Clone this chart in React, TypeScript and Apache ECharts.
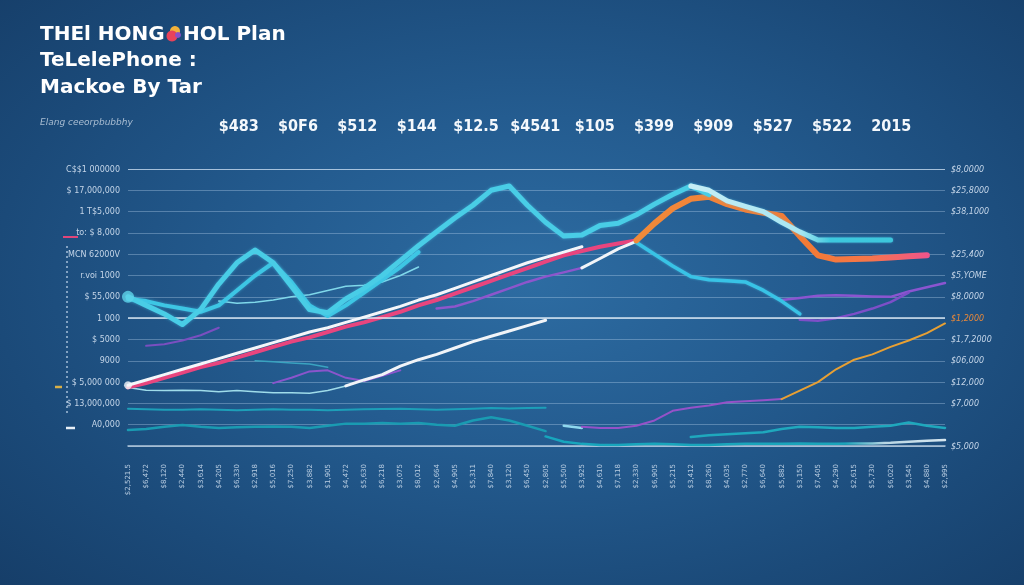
import React, { useEffect, useRef } from "react";
import * as echarts from "echarts";

const N = 46;
const categories = [
  "$2,521.5", "$6,472", "$8,120", "$2,440", "$3,614", "$4,205", "$6,330", "$2,918",
  "$5,016", "$7,250", "$3,882", "$1,905", "$4,472", "$5,630", "$6,218", "$3,075",
  "$8,012", "$2,664", "$4,905", "$5,311", "$7,840", "$3,120", "$6,450", "$2,805",
  "$5,500", "$3,925", "$4,610", "$7,118", "$2,330", "$6,905", "$5,215", "$3,412",
  "$8,260", "$4,035", "$2,770", "$6,640", "$5,882", "$3,150", "$7,405", "$4,290",
  "$2,615", "$5,730", "$6,020", "$3,545", "$4,880", "$2,995",
];
const topLabels = ["$483", "$0F6", "$512", "$144", "$12.5", "$4541", "$105", "$399", "$909", "$527", "$522", "2015"];
const leftTicks = [
  "", "A0,000", "$ 13,000,000", "$ 5,000 000", "9000", "$ 5000", "1 000",
  "$ 55,000", "r.voi 1000", "MCN 62000V", "to: $ 8,000", "1 T$5,000", "$ 17,000,000", "C$$1 000000",
];
const rightTicks = [
  "$5,000", "", "$7,000", "$12,000", "$06,000", "$1,7,2000", "$1,2000",
  "$8,0000", "$5,YOME", "$25,400", "", "$38,1000", "$25,8000", "$8,0000",
];

// series values (start index, values)
const cyanMainStart = 0;
const cyanMain = [7.0, 6.6, 6.2, 5.7, 6.4, 7.6, 8.6, 9.2, 8.6, 7.5, 6.4, 6.25, 6.9, 7.4, 8.0, 8.7, 9.4, 10.05, 10.7, 11.3, 12.0, 12.2, 11.3, 10.5, 9.85, 9.9, 10.35, 10.45, 10.85, 11.35, 11.8, 12.2, 11.8];
const cyanSecondStart = 0;
const cyanSecond = [6.9, 6.8, 6.6, 6.45, 6.3, 6.6, 7.3, 8.0, 8.6, 7.7, 6.6, 6.1, 6.6, 7.2, 7.8, 8.4, 9.1];
const cyanThinStart = 5;
const cyanThin = [6.8, 6.7, 6.75, 6.85, 7.0, 7.1, 7.3, 7.5, 7.55, 7.7, 8.0, 8.4];
const paleCyanStart = 31;
const paleCyan = [12.2, 12.0, 11.5, 11.25, 11.0, 10.5, 10.05, 9.67, 9.67, 9.67, 9.67, 9.67];
const cyanDownStart = 28;
const cyanDown = [9.55, 9.0, 8.45, 7.95, 7.8, 7.75, 7.7, 7.3, 6.8, 6.2];
const pinkStart = 0;
const pink = [2.75, 2.95, 3.2, 3.45, 3.7, 3.9, 4.15, 4.4, 4.65, 4.9, 5.1, 5.35, 5.6, 5.8, 6.05, 6.3, 6.6, 6.85, 7.15, 7.45, 7.75, 8.05, 8.35, 8.65, 8.95, 9.15, 9.35, 9.5, 9.65];
const orangeStart = 28;
const orange = [9.65, 10.45, 11.15, 11.6, 11.7, 11.35, 11.1, 10.95, 10.8, 9.85, 8.95, 8.75, 8.78, 8.8, 8.85, 8.9, 8.95];
const whiteUpperStart = 0;
const whiteUpper = [2.85, 3.1, 3.35, 3.6, 3.85, 4.1, 4.35, 4.6, 4.85, 5.1, 5.35, 5.55, 5.8, 6.05, 6.3, 6.55, 6.85, 7.1, 7.4, 7.7, 8.0, 8.3, 8.6, 8.85, 9.1, 9.35];
const whiteSecondStart = 25;
const whiteSecond = [8.36, 8.8, 9.25, 9.6];
const whiteLowerStart = 12;
const whiteLower = [2.82, 3.1, 3.35, 3.75, 4.05, 4.3, 4.6, 4.9, 5.15, 5.4, 5.65, 5.9];
const lightThinStart = 0;
const lightThin = [2.75, 2.62, 2.6, 2.62, 2.6, 2.55, 2.6, 2.55, 2.5, 2.5, 2.48, 2.6, 2.82];
const purpleAStart = 1;
const purpleA = [4.7, 4.78, 4.95, 5.2, 5.55];
const purpleBStart = 8;
const purpleB = [2.95, 3.2, 3.5, 3.55, 3.2, 3.05, 3.3, 3.55];
const purpleCStart = 17;
const purpleC = [6.45, 6.55, 6.8, 7.1, 7.4, 7.7, 7.95, 8.15, 8.36];
const purpleDStart = 36;
const purpleD = [6.85, 6.95, 7.05, 7.08, 7.05, 7.02, 7.0, 7.25, 7.45, 7.65];
const purpleEStart = 37;
const purpleE = [5.92, 5.88, 6.0, 6.2, 6.45, 6.75, 7.2];
const purpleFStart = 25;
const purpleF = [0.9, 0.85, 0.85, 0.95, 1.2, 1.65, 1.8, 1.9, 2.05, 2.1, 2.15, 2.2];
const orangeThinStart = 36;
const orangeThin = [2.2, 2.6, 3.0, 3.6, 4.05, 4.3, 4.65, 4.95, 5.3, 5.75];
const tealMidStart = 7;
const tealMid = [4.0, 3.95, 3.9, 3.85, 3.7];
const tealAStart = 0;
const tealA = [1.75, 1.72, 1.7, 1.7, 1.72, 1.7, 1.68, 1.7, 1.72, 1.7, 1.7, 1.68, 1.7, 1.72, 1.74, 1.75, 1.72, 1.7, 1.72, 1.75, 1.78, 1.76, 1.78, 1.8];
const tealBStart = 0;
const tealB = [0.75, 0.8, 0.9, 0.98, 0.9, 0.85, 0.88, 0.9, 0.92, 0.9, 0.85, 0.95, 1.05, 1.05, 1.08, 1.05, 1.08, 1.0, 0.95, 1.2, 1.35, 1.2, 0.95, 0.7];
const tealCStart = 31;
const tealC = [0.42, 0.5, 0.55, 0.6, 0.65, 0.8, 0.9, 0.88, 0.85, 0.85, 0.9, 0.95, 1.1, 0.95, 0.85];
const tealDStart = 23;
const tealD = [0.45, 0.2, 0.1, 0.05, 0.05, 0.08, 0.1, 0.08, 0.05, 0.05, 0.08, 0.1, 0.1, 0.1, 0.12, 0.1, 0.1, 0.12, 0.12, 0.15, 0.2, 0.25, 0.28];
const paleSegStart = 24;
const paleSeg = [0.95, 0.85];

function pad(start: number, vals: number[]) {
  const arr: (number | null)[] = new Array(N).fill(null);
  vals.forEach((v, k) => {
    arr[start + k] = v;
  });
  return arr;
}

function line(name: string, start: number, vals: number[], color: any, width: number, z: number, glow = 0) {
  return {
    name,
    type: "line",
    data: pad(start, vals),
    symbol: "none",
    silent: true,
    z,
    lineStyle: {
      color,
      width,
      cap: "round",
      join: "round",
      shadowBlur: glow,
      shadowColor: glow ? "rgba(70,200,235,0.55)" : "transparent",
    },
  };
}

export default function App() {
  const ref = useRef<HTMLDivElement>(null);
  useEffect(() => {
    if (!ref.current) return;
    const chart = echarts.init(ref.current, null, { renderer: "svg" });
    const hgrad = (stops: [number, string][]) =>
      new echarts.graphic.LinearGradient(0, 0, 1, 0, stops.map(([o, c]) => ({ offset: o, color: c })));
    const titleFont = { fill: "#ffffff", fontSize: 20, fontWeight: "bold", fontFamily: "'DejaVu Sans', sans-serif" };

    const option: any = {
      animation: false,
      backgroundColor: "transparent",
      grid: [
        { left: 128, right: 79, top: 169, bottom: 139 },
        { left: 209, width: 712, top: 135, height: 2 },
      ],
      xAxis: [
        {
          type: "category",
          data: categories,
          boundaryGap: false,
          gridIndex: 0,
          axisLine: { show: true, lineStyle: { color: "rgba(225,238,250,0.75)", width: 1.5 } },
          axisTick: { show: false },
          axisLabel: {
            rotate: 90,
            interval: 0,
            fontSize: 7,
            color: "#b9cde2",
            margin: 18,
            fontFamily: "DejaVu Sans",
          },
          splitLine: { show: false },
        },
        {
          type: "category",
          data: topLabels,
          gridIndex: 1,
          position: "top",
          axisLine: { show: false },
          axisTick: { show: false },
          axisLabel: {
            interval: 0,
            margin: 2,
            fontSize: 16,
            fontWeight: "bold",
            color: "#f4f8fc",
            fontFamily: "'DejaVu Sans Condensed', 'Liberation Sans Narrow', 'DejaVu Sans', sans-serif",
          },
        },
      ],
      yAxis: [
        {
          type: "value",
          gridIndex: 0,
          min: 0,
          max: 13,
          interval: 1,
          axisLine: { show: false },
          axisTick: { show: false },
          splitLine: { lineStyle: { color: "rgba(190,215,240,0.35)", width: 1 } },
          axisLabel: {
            fontSize: 8,
            color: "#c4d5e8",
            margin: 8,
            fontFamily: "DejaVu Sans",
            formatter: (v: number) => leftTicks[Math.round(v)] ?? "",
          },
        },
        {
          type: "value",
          gridIndex: 0,
          position: "right",
          min: 0,
          max: 13,
          interval: 1,
          axisLine: { show: false },
          axisTick: { show: false },
          splitLine: { show: false },
          axisLabel: {
            fontSize: 8,
            color: "#c4d5e8",
            margin: 6,
            fontStyle: "italic",
            fontFamily: "DejaVu Sans",
            formatter: (v: number) => {
              const t = rightTicks[Math.round(v)] ?? "";
              return Math.round(v) === 6 ? "{o|" + t + "}" : t;
            },
            rich: { o: { color: "#e8883a", fontSize: 8, fontStyle: "italic" } },
          },
        },
        { type: "value", gridIndex: 1, show: false },
      ],
      series: [
        {
          ...line("tealA", tealAStart, tealA, "#1d9fb8", 2, 2),
          markLine: {
            silent: true,
            symbol: "none",
            label: { show: false },
            data: [
              { yAxis: 6, lineStyle: { color: "rgba(240,248,255,0.85)", width: 1.5, type: "solid" } },
              { yAxis: 13, lineStyle: { color: "rgba(220,235,250,0.6)", width: 1.2, type: "solid" } },
            ],
          },
        },
        line("tealB", tealBStart, tealB, "#1a9bb2", 2.5, 2),
        line("tealC", tealCStart, tealC, "#1fa8bd", 2.5, 2),
        line("tealD", tealDStart, tealD, hgrad([[0, "#17a6bd"], [0.75, "#1ba4ba"], [0.85, "#b8d6e4"], [1, "#d6e6ef"]]), 2.5, 2),
        line("paleSeg", paleSegStart, paleSeg, "#8fd8ee", 2.5, 3),
        line("tealMid", tealMidStart, tealMid, "#3aa3c0", 1.5, 3),
        line("lightThin", lightThinStart, lightThin, "#9fdcea", 1.5, 3),
        line("purpleA", purpleAStart, purpleA, "#7a4fc0", 2, 3),
        line("purpleB", purpleBStart, purpleB, "#8a55cc", 2, 3),
        line("purpleC", purpleCStart, purpleC, "#8d56cc", 2.5, 3),
        line("purpleD", purpleDStart, purpleD, "#8b55d0", 2.5, 3),
        line("purpleE", purpleEStart, purpleE, "#7d4fc8", 2.5, 3),
        line("purpleF", purpleFStart, purpleF, "#9552c8", 2, 3),
        line("orangeThin", orangeThinStart, orangeThin, "#e8a033", 2, 3),
        line("whiteLower", whiteLowerStart, whiteLower, "#f1f4f8", 3, 4),
        line("pink", pinkStart, pink, "#e8457e", 4, 4),
        line("whiteUpper", whiteUpperStart, whiteUpper, "#f4f6fa", 3, 5),
        line("whiteSecond", whiteSecondStart, whiteSecond, "#f1f4f8", 3, 5),
        line("cyanDown", cyanDownStart, cyanDown, "#39c3e6", 3.5, 5, 2),
        line("orange", orangeStart, orange, hgrad([[0, "#f08a3a"], [0.6, "#f27a36"], [0.8, "#f5764a"], [1, "#f0558a"]]), 6, 6),
        line("cyanThin", cyanThinStart, cyanThin, "#7fd8ea", 1.5, 6),
        line("cyanSecond", cyanSecondStart, cyanSecond, "#3dc6e4", 4, 6, 3),
        line("cyanMain", cyanMainStart, cyanMain, "#48cde6", 5, 7, 3),
        line("paleCyan", paleCyanStart, paleCyan, hgrad([[0, "#c6eef5"], [0.55, "#a7e6f2"], [0.7, "#3ec8de"], [1, "#3cc6dc"]]), 5, 7, 2),
        {
          type: "scatter",
          silent: true,
          z: 8,
          symbolSize: 8,
          data: [
            { value: [cyanMainStart, cyanMain[0]], itemStyle: { color: "#5fd3ea" }, symbolSize: 12 },
            { value: [whiteUpperStart, whiteUpper[0]], itemStyle: { color: "#f4f6fa" } },
          ],
        },
      ],
      graphic: [
        { type: "text", left: 40, top: 23, style: { ...titleFont, text: "THEl HONG" } },
        { type: "circle", shape: { cx: 175, cy: 31, r: 5 }, style: { fill: "#f2b23a" } },
        { type: "circle", shape: { cx: 172, cy: 36, r: 5.5 }, style: { fill: "#e8425a" } },
        { type: "circle", shape: { cx: 178, cy: 35, r: 3 }, style: { fill: "#8a4fc8" } },
        { type: "text", left: 183, top: 23, style: { ...titleFont, text: "HOL Plan" } },
        { type: "text", left: 40, top: 49, style: { ...titleFont, text: "TeLelePhone :" } },
        { type: "text", left: 40, top: 76, style: { ...titleFont, text: "Mackoe By Tar" } },
        {
          type: "text",
          left: 40,
          top: 117,
          style: { text: "Elang ceeorpbubbhy", fill: "#a9bdd2", fontSize: 9, fontStyle: "italic", fontFamily: "'DejaVu Sans', sans-serif" },
        },
        { type: "line", shape: { x1: 63, y1: 237, x2: 78, y2: 237 }, style: { stroke: "#e0467a", lineWidth: 2 } },
        { type: "line", shape: { x1: 55, y1: 387, x2: 62, y2: 387 }, style: { stroke: "#d8b048", lineWidth: 2.5 } },
        { type: "line", shape: { x1: 66, y1: 428, x2: 75, y2: 428 }, style: { stroke: "#e8f0f8", lineWidth: 2.5 } },
        { type: "line", shape: { x1: 67, y1: 246, x2: 67, y2: 415 }, style: { stroke: "rgba(200,220,240,0.6)", lineWidth: 2, lineDash: [2, 3] } },
      ],
    };
    chart.setOption(option);
    return () => chart.dispose();
  }, []);

  return (
    <div
      style={{
        position: "fixed",
        left: 0,
        top: 0,
        width: 1024,
        height: 585,
        background:
          "radial-gradient(ellipse 75% 80% at 52% 48%, #2d6ca2 0%, #245c90 35%, #1b4a79 70%, #153c66 100%)",
      }}
    >
      <div ref={ref} style={{ width: 1024, height: 585 }} />
    </div>
  );
}
